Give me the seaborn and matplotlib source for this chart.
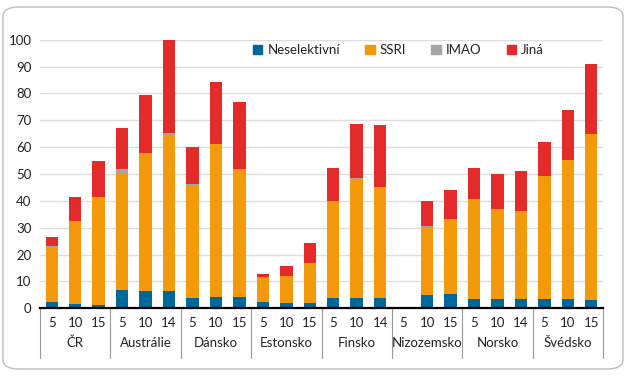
import matplotlib
matplotlib.use("Agg")
import matplotlib.pyplot as plt
from matplotlib.patches import FancyBboxPatch, Patch
from matplotlib.lines import Line2D
import seaborn as sns
import pandas as pd
import numpy as np

countries = ["ČR", "Austrálie", "Dánsko", "Estonsko", "Finsko", "Nizozemsko", "Norsko", "Švédsko"]
years = [["5", "10", "15"], ["5", "10", "14"], ["5", "10", "15"], ["5", "10", "15"],
         ["5", "10", "14"], ["5", "10", "15"], ["5", "10", "14"], ["5", "10", "15"]]

neselektivni = [2.2, 1.6, 1.4, 6.7, 6.3, 6.3, 4.0, 4.3, 4.3, 2.5, 1.9, 1.9,
                4.0, 4.0, 4.0, 0.0, 5.0, 5.3, 3.6, 3.3, 3.3, 3.3, 3.3, 3.0]
ssri = [20.6, 30.9, 39.9, 43.4, 51.5, 58.1, 41.9, 57.0, 47.7, 9.0, 10.1, 14.8,
        35.7, 44.0, 41.2, 0.0, 25.3, 28.0, 36.6, 33.7, 32.8, 46.1, 52.0, 62.0]
imao = [0.4, 0.0, 0.0, 1.9, 0.0, 1.0, 0.4, 0.0, 0.0, 0.0, 0.0, 0.0,
        0.3, 0.5, 0.0, 0.0, 0.3, 0.0, 0.4, 0.0, 0.0, 0.0, 0.0, 0.0]
jina = [3.3, 8.9, 13.4, 15.1, 21.5, 34.7, 13.6, 22.8, 24.9, 1.3, 3.6, 7.7,
        12.1, 20.2, 23.2, 0.0, 9.2, 10.6, 11.5, 13.0, 14.9, 12.5, 18.6, 25.9]

series_names = ["Neselektivní", "SSRI", "IMAO", "Jiná"]
colors = ["#00679A", "#F49A0A", "#A5A5A5", "#E52A2A"]

sns.set_theme(style="white")
plt.rcParams["font.family"] = ["Lato", "DejaVu Sans"]

ids = [f"{c}|{y}" for c, ys in zip(countries, years) for y in ys]
df = pd.DataFrame({"id": ids, "Neselektivní": neselektivni, "SSRI": ssri,
                   "IMAO": imao, "Jiná": jina})
cum = df[series_names].cumsum(axis=1)

fig = plt.figure(figsize=(6.32, 3.77), dpi=100)
ax = fig.add_axes([40 / 632, 1 - 308.3 / 377, (603 - 40) / 632, (308.3 - 39.7) / 377])

# frame
frame = FancyBboxPatch((3 / 632, 8 / 377), 620 / 632, 362 / 377,
                       boxstyle="round,pad=0,rounding_size=0.025",
                       transform=fig.transFigure, facecolor="none",
                       edgecolor="#BDBDBD", linewidth=1.0, zorder=0)
fig.patches.append(frame)

for name, col in reversed(list(zip(series_names, colors))):
    d = pd.DataFrame({"id": ids, "v": cum[name].values})
    sns.barplot(data=d, x="id", y="v", order=ids, color=col, width=0.53,
                saturation=1, ax=ax, zorder=3, linewidth=0, edgecolor=col)

ax.set_xlim(-0.5, len(ids) - 0.5)
ax.set_ylim(0, 100)
ax.set_yticks(range(0, 101, 10))
ax.set_yticklabels([str(v) for v in range(0, 101, 10)], fontsize=9.5, color="#222222")
ax.yaxis.grid(True, color="#DDDDDD", linewidth=1.0, zorder=0)
ax.set_axisbelow(True)
ax.tick_params(axis="y", length=0, pad=6)
ax.set_xticks([])
ax.set_xlabel("")
ax.set_ylabel("")
for s in ["left", "right", "top"]:
    ax.spines[s].set_visible(False)
ax.spines["bottom"].set_color("black")
ax.spines["bottom"].set_linewidth(1.6)
ax.spines["bottom"].set_zorder(5)

trans = ax.get_xaxis_transform()
pos = 0
for c, ys in zip(countries, years):
    for k, y in enumerate(ys):
        ax.text(pos + k, -0.055, y, transform=trans, ha="center", va="center",
                fontsize=9.5, color="#222222")
    ax.text(pos + 1, -0.13, c, transform=trans, ha="center", va="center",
            fontsize=9.5, color="#222222")
    pos += len(ys)
for b in range(0, len(ids) + 1, 3):
    ax.add_line(Line2D([b - 0.5, b - 0.5], [0, -0.185], transform=trans,
                       color="#999999", linewidth=0.8, clip_on=False))

handles = [Patch(facecolor=c, edgecolor=c, label=n) for n, c in zip(series_names, colors)]
leg = ax.legend(handles=handles, loc="center", bbox_to_anchor=(0.637, 0.96), ncol=4,
                frameon=True, fontsize=9.5, handlelength=0.7, handleheight=0.7,
                handletextpad=0.4, columnspacing=1.9, borderpad=0.2)
leg.get_frame().set_facecolor("white")
leg.get_frame().set_edgecolor("none")
leg.get_frame().set_alpha(1)
for t in leg.get_texts():
    t.set_color("#222222")

fig.savefig("out.png", dpi=100)
